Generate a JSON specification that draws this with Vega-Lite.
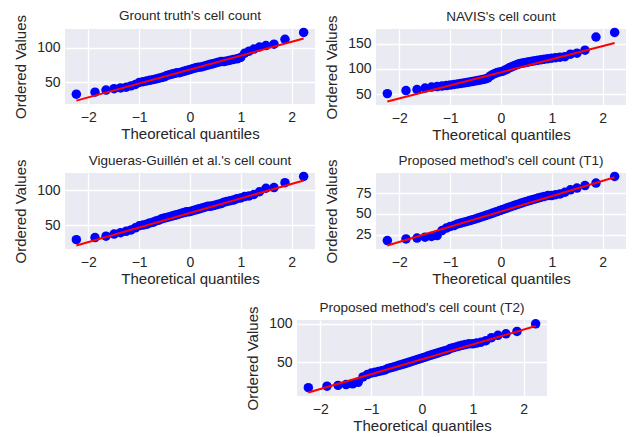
{
"$schema": "https://vega.github.io/schema/vega-lite/v6.json",
"background": "white",
"padding": {"left": 13, "top": 9, "right": 2, "bottom": 0},
"datasets": {
"gt": [{"q":-2.234,"v":33},{"q":-1.867,"v":36},{"q":-1.651,"v":39},{"q":-1.493,"v":41},{"q":-1.365,"v":42},{"q":-1.256,"v":43},{"q":-1.16,"v":45},{"q":-1.074,"v":47},{"q":-0.996,"v":50},{"q":-0.923,"v":51},{"q":-0.854,"v":52},{"q":-0.79,"v":53},{"q":-0.728,"v":54},{"q":-0.669,"v":55},{"q":-0.613,"v":56},{"q":-0.558,"v":57},{"q":-0.505,"v":58},{"q":-0.453,"v":60},{"q":-0.402,"v":61},{"q":-0.353,"v":62},{"q":-0.305,"v":63},{"q":-0.256,"v":64},{"q":-0.209,"v":64},{"q":-0.162,"v":65},{"q":-0.116,"v":66},{"q":-0.069,"v":67},{"q":-0.023,"v":68},{"q":0.023,"v":69},{"q":0.069,"v":70},{"q":0.116,"v":71},{"q":0.162,"v":72},{"q":0.209,"v":72},{"q":0.256,"v":73},{"q":0.305,"v":74},{"q":0.353,"v":75},{"q":0.402,"v":76},{"q":0.453,"v":77},{"q":0.505,"v":78},{"q":0.558,"v":79},{"q":0.613,"v":80},{"q":0.669,"v":80},{"q":0.728,"v":81},{"q":0.79,"v":82},{"q":0.854,"v":83},{"q":0.923,"v":84},{"q":0.996,"v":86},{"q":1.074,"v":92},{"q":1.16,"v":95},{"q":1.256,"v":98},{"q":1.365,"v":101},{"q":1.493,"v":103},{"q":1.651,"v":105},{"q":1.867,"v":112},{"q":2.234,"v":122}],
"navis": [{"q":-2.234,"v":51},{"q":-1.867,"v":57},{"q":-1.651,"v":59},{"q":-1.493,"v":62},{"q":-1.365,"v":64},{"q":-1.256,"v":65},{"q":-1.16,"v":66},{"q":-1.074,"v":67},{"q":-0.996,"v":68},{"q":-0.923,"v":69},{"q":-0.854,"v":70},{"q":-0.79,"v":71},{"q":-0.728,"v":72},{"q":-0.669,"v":73},{"q":-0.613,"v":74},{"q":-0.558,"v":75},{"q":-0.505,"v":76},{"q":-0.453,"v":77},{"q":-0.402,"v":78},{"q":-0.353,"v":79},{"q":-0.305,"v":80},{"q":-0.256,"v":82},{"q":-0.209,"v":86},{"q":-0.162,"v":89},{"q":-0.116,"v":91},{"q":-0.069,"v":93},{"q":-0.023,"v":94},{"q":0.023,"v":95},{"q":0.069,"v":97},{"q":0.116,"v":99},{"q":0.162,"v":102},{"q":0.209,"v":104},{"q":0.256,"v":106},{"q":0.305,"v":108},{"q":0.353,"v":110},{"q":0.402,"v":111},{"q":0.453,"v":112},{"q":0.505,"v":113},{"q":0.558,"v":114},{"q":0.613,"v":115},{"q":0.669,"v":116},{"q":0.728,"v":117},{"q":0.79,"v":118},{"q":0.854,"v":119},{"q":0.923,"v":120},{"q":0.996,"v":121},{"q":1.074,"v":122},{"q":1.16,"v":123},{"q":1.256,"v":124},{"q":1.365,"v":129},{"q":1.493,"v":131},{"q":1.651,"v":137},{"q":1.867,"v":163},{"q":2.234,"v":172}],
"vig": [{"q":-2.234,"v":29},{"q":-1.867,"v":32},{"q":-1.651,"v":34},{"q":-1.493,"v":37},{"q":-1.365,"v":39},{"q":-1.256,"v":41},{"q":-1.16,"v":43},{"q":-1.074,"v":46},{"q":-0.996,"v":49},{"q":-0.923,"v":50},{"q":-0.854,"v":51},{"q":-0.79,"v":53},{"q":-0.728,"v":54},{"q":-0.669,"v":56},{"q":-0.613,"v":57},{"q":-0.558,"v":59},{"q":-0.505,"v":60},{"q":-0.453,"v":61},{"q":-0.402,"v":62},{"q":-0.353,"v":63},{"q":-0.305,"v":64},{"q":-0.256,"v":65},{"q":-0.209,"v":66},{"q":-0.162,"v":67},{"q":-0.116,"v":68},{"q":-0.069,"v":69},{"q":-0.023,"v":69},{"q":0.023,"v":70},{"q":0.069,"v":71},{"q":0.116,"v":72},{"q":0.162,"v":73},{"q":0.209,"v":74},{"q":0.256,"v":75},{"q":0.305,"v":76},{"q":0.353,"v":77},{"q":0.402,"v":77},{"q":0.453,"v":78},{"q":0.505,"v":79},{"q":0.558,"v":80},{"q":0.613,"v":81},{"q":0.669,"v":83},{"q":0.728,"v":84},{"q":0.79,"v":85},{"q":0.854,"v":86},{"q":0.923,"v":88},{"q":0.996,"v":89},{"q":1.074,"v":91},{"q":1.16,"v":92},{"q":1.256,"v":94},{"q":1.365,"v":98},{"q":1.493,"v":103},{"q":1.651,"v":104},{"q":1.867,"v":111},{"q":2.234,"v":120}],
"t1": [{"q":-2.234,"v":18},{"q":-1.867,"v":20},{"q":-1.651,"v":21},{"q":-1.493,"v":22},{"q":-1.365,"v":23},{"q":-1.256,"v":24},{"q":-1.16,"v":30},{"q":-1.074,"v":33},{"q":-0.996,"v":35},{"q":-0.923,"v":36},{"q":-0.854,"v":38},{"q":-0.79,"v":39},{"q":-0.728,"v":40},{"q":-0.669,"v":41},{"q":-0.613,"v":42},{"q":-0.558,"v":43},{"q":-0.505,"v":44},{"q":-0.453,"v":45},{"q":-0.402,"v":46},{"q":-0.353,"v":47},{"q":-0.305,"v":48},{"q":-0.256,"v":49},{"q":-0.209,"v":50},{"q":-0.162,"v":51},{"q":-0.116,"v":52},{"q":-0.069,"v":53},{"q":-0.023,"v":54},{"q":0.023,"v":55},{"q":0.069,"v":56},{"q":0.116,"v":57},{"q":0.162,"v":58},{"q":0.209,"v":59},{"q":0.256,"v":60},{"q":0.305,"v":61},{"q":0.353,"v":62},{"q":0.402,"v":63},{"q":0.453,"v":64},{"q":0.505,"v":65},{"q":0.558,"v":66},{"q":0.613,"v":67},{"q":0.669,"v":68},{"q":0.728,"v":69},{"q":0.79,"v":70},{"q":0.854,"v":71},{"q":0.923,"v":72},{"q":0.996,"v":72},{"q":1.074,"v":73},{"q":1.16,"v":74},{"q":1.256,"v":76},{"q":1.365,"v":79},{"q":1.493,"v":81},{"q":1.651,"v":84},{"q":1.867,"v":87},{"q":2.234,"v":95}],
"t2": [{"q":-2.234,"v":17},{"q":-1.867,"v":19},{"q":-1.651,"v":20},{"q":-1.493,"v":21},{"q":-1.365,"v":22},{"q":-1.256,"v":24},{"q":-1.16,"v":31},{"q":-1.074,"v":34},{"q":-0.996,"v":36},{"q":-0.923,"v":37},{"q":-0.854,"v":38},{"q":-0.79,"v":39},{"q":-0.728,"v":40},{"q":-0.669,"v":42},{"q":-0.613,"v":43},{"q":-0.558,"v":44},{"q":-0.505,"v":45},{"q":-0.453,"v":46},{"q":-0.402,"v":47},{"q":-0.353,"v":48},{"q":-0.305,"v":49},{"q":-0.256,"v":50},{"q":-0.209,"v":51},{"q":-0.162,"v":52},{"q":-0.116,"v":53},{"q":-0.069,"v":54},{"q":-0.023,"v":55},{"q":0.023,"v":56},{"q":0.069,"v":57},{"q":0.116,"v":58},{"q":0.162,"v":59},{"q":0.209,"v":60},{"q":0.256,"v":61},{"q":0.305,"v":62},{"q":0.353,"v":63},{"q":0.402,"v":64},{"q":0.453,"v":65},{"q":0.505,"v":66},{"q":0.558,"v":68},{"q":0.613,"v":69},{"q":0.669,"v":70},{"q":0.728,"v":71},{"q":0.79,"v":72},{"q":0.854,"v":73},{"q":0.923,"v":74},{"q":0.996,"v":74},{"q":1.074,"v":75},{"q":1.16,"v":76},{"q":1.256,"v":78},{"q":1.365,"v":82},{"q":1.493,"v":85},{"q":1.651,"v":87},{"q":1.867,"v":90},{"q":2.234,"v":100}],
"fit": [{"panel":"gt","q":-2.234,"v":23.8},{"panel":"gt","q":2.234,"v":113.3},{"panel":"navis","q":-2.234,"v":35.3},{"panel":"navis","q":2.234,"v":151.0},{"panel":"vig","q":-2.234,"v":20.5},{"panel":"vig","q":2.234,"v":114.3},{"panel":"t1","q":-2.234,"v":12.0},{"panel":"t1","q":2.234,"v":94.0},{"panel":"t2","q":-2.234,"v":10.7},{"panel":"t2","q":2.234,"v":97.0}]
},
"spacing": 14,
"vconcat": [
 {"spacing": 11, "vconcat": [
 {"spacing": 9, "hconcat": [
  {"title": {"text": "Grount truth's cell count"}, "width": 250, "height": 75, "view": {"fill": "#EAEAF2", "stroke": null},
   "encoding": {"x": {"field": "q", "type": "quantitative", "scale": {"domain": [-2.457, 2.457], "nice": false, "zero": false}, "axis": {"values": [-2,-1,0,1,2], "format": "d", "labelOverlap": false, "title": "Theoretical quantiles"}},
      "y": {"field": "v", "type": "quantitative", "scale": {"domain": [18.9, 126.9], "nice": false, "zero": false}, "axis": {"values": [50, 100], "format": "d", "labelOverlap": false, "title": "Ordered Values"}}},
   "layer": [
    {"data": {"name": "gt"}, "mark": {"type": "circle", "color": "#0000FF", "opacity": 1, "size": 90}},
    {"data": {"name": "fit"}, "transform": [{"filter": "datum.panel == 'gt'"}], "mark": {"type": "line", "color": "#FF0000", "strokeWidth": 2}}
   ]},
  {"title": {"text": "NAVIS's cell count"}, "width": 250, "height": 76, "view": {"fill": "#EAEAF2", "stroke": null},
   "encoding": {"x": {"field": "q", "type": "quantitative", "scale": {"domain": [-2.457, 2.457], "nice": false, "zero": false}, "axis": {"values": [-2,-1,0,1,2], "format": "d", "labelOverlap": false, "title": "Theoretical quantiles"}},
      "y": {"field": "v", "type": "quantitative", "scale": {"domain": [28.5, 178.8], "nice": false, "zero": false}, "axis": {"values": [50, 100, 150], "format": "d", "labelOverlap": false, "title": "Ordered Values"}}},
   "layer": [
    {"data": {"name": "navis"}, "mark": {"type": "circle", "color": "#0000FF", "opacity": 1, "size": 90}},
    {"data": {"name": "fit"}, "transform": [{"filter": "datum.panel == 'navis'"}], "mark": {"type": "line", "color": "#FF0000", "strokeWidth": 2}}
   ]}
 ]},
 {"spacing": 9, "hconcat": [
  {"title": {"text": "Vigueras-Guillén et al.'s cell count"}, "width": 250, "height": 76, "view": {"fill": "#EAEAF2", "stroke": null},
   "encoding": {"x": {"field": "q", "type": "quantitative", "scale": {"domain": [-2.457, 2.457], "nice": false, "zero": false}, "axis": {"values": [-2,-1,0,1,2], "format": "d", "labelOverlap": false, "title": "Theoretical quantiles"}},
      "y": {"field": "v", "type": "quantitative", "scale": {"domain": [15.5, 125.0], "nice": false, "zero": false}, "axis": {"values": [50, 100], "format": "d", "labelOverlap": false, "title": "Ordered Values"}}},
   "layer": [
    {"data": {"name": "vig"}, "mark": {"type": "circle", "color": "#0000FF", "opacity": 1, "size": 90}},
    {"data": {"name": "fit"}, "transform": [{"filter": "datum.panel == 'vig'"}], "mark": {"type": "line", "color": "#FF0000", "strokeWidth": 2}}
   ]},
  {"title": {"text": "Proposed method's cell count (T1)"}, "width": 250, "height": 76, "view": {"fill": "#EAEAF2", "stroke": null},
   "encoding": {"x": {"field": "q", "type": "quantitative", "scale": {"domain": [-2.457, 2.457], "nice": false, "zero": false}, "axis": {"values": [-2,-1,0,1,2], "format": "d", "labelOverlap": false, "title": "Theoretical quantiles"}},
      "y": {"field": "v", "type": "quantitative", "scale": {"domain": [7.85, 99.15], "nice": false, "zero": false}, "axis": {"values": [25, 50, 75], "format": "d", "labelOverlap": false, "title": "Ordered Values"}}},
   "layer": [
    {"data": {"name": "t1"}, "mark": {"type": "circle", "color": "#0000FF", "opacity": 1, "size": 90}},
    {"data": {"name": "fit"}, "transform": [{"filter": "datum.panel == 't1'"}], "mark": {"type": "line", "color": "#FF0000", "strokeWidth": 2}}
   ]}
 ]}
 ]},
 {"spacing": 9, "align": "none", "hconcat": [
  {"data": {"values": []}, "mark": "point", "width": 171, "height": 10},
  {"title": {"text": "Proposed method's cell count (T2)"}, "width": 250, "height": 76, "view": {"fill": "#EAEAF2", "stroke": null},
   "encoding": {"x": {"field": "q", "type": "quantitative", "scale": {"domain": [-2.457, 2.457], "nice": false, "zero": false}, "axis": {"values": [-2,-1,0,1,2], "format": "d", "labelOverlap": false, "title": "Theoretical quantiles"}},
      "y": {"field": "v", "type": "quantitative", "scale": {"domain": [6.2, 104.9], "nice": false, "zero": false}, "axis": {"values": [50, 100], "format": "d", "labelOverlap": false, "title": "Ordered Values"}}},
   "layer": [
    {"data": {"name": "t2"}, "mark": {"type": "circle", "color": "#0000FF", "opacity": 1, "size": 90}},
    {"data": {"name": "fit"}, "transform": [{"filter": "datum.panel == 't2'"}], "mark": {"type": "line", "color": "#FF0000", "strokeWidth": 2}}
   ]}
 ]}
],
"config": {
 "font": "Liberation Sans",
 "view": {"stroke": null},
 "axis": {"grid": true, "gridColor": "#FFFFFF", "gridWidth": 1.3, "domain": false, "ticks": false, "labelOverlap": false, "labelFont": "Liberation Sans", "labelFontSize": 14, "labelColor": "#262626", "titleFont": "Liberation Sans", "titleFontSize": 15, "titleFontWeight": "normal", "titleColor": "#262626"},
 "axisX": {"labelPadding": 6, "titlePadding": 2},
 "axisY": {"labelPadding": 5, "titlePadding": 7, "minExtent": 30, "maxExtent": 30},
 "title": {"fontSize": 13.5, "fontWeight": "normal", "color": "#262626", "offset": -8, "font": "Liberation Sans", "anchor": "middle", "frame": "group"}
}
}
